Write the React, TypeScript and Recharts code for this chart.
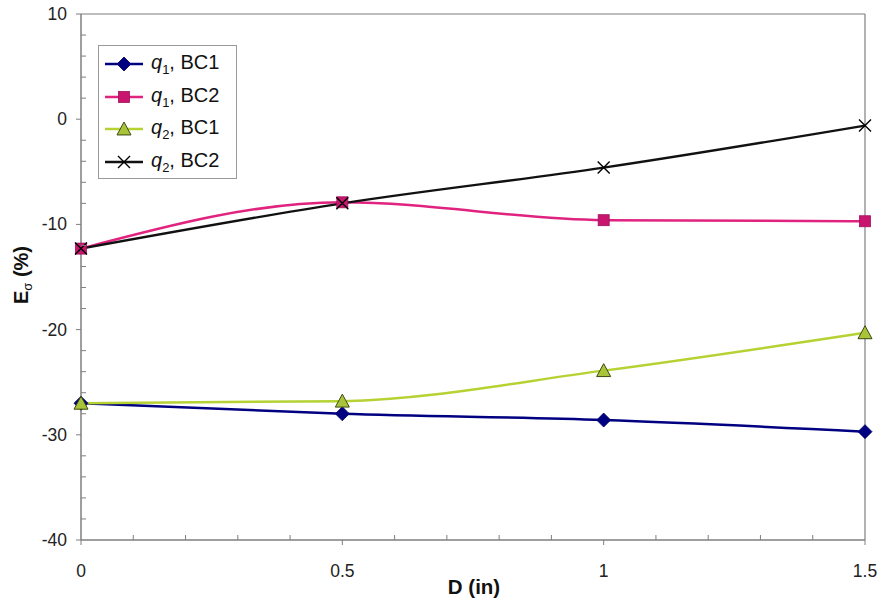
import React from "react";
import { LineChart, Line, XAxis, YAxis, Legend, ReferenceLine } from "recharts";

// Diameter D (in) on the x axis
const dValues = [0, 0.5, 1, 1.5];
// Eσ (%) for each loading / boundary-condition case
const q1BC1 = [-27.0, -28.0, -28.6, -29.7];
const q1BC2 = [-12.3, -7.9, -9.6, -9.7];
const q2BC1 = [-27.0, -26.8, -23.9, -20.3];
const q2BC2 = [-12.3, -8.0, -4.6, -0.6];

// Tick positions (major ones carry labels)
const xTicks = [0, 0.1, 0.2, 0.3, 0.4, 0.5, 0.6, 0.7, 0.8, 0.9, 1, 1.1, 1.2, 1.3, 1.4, 1.5];
const xMajor = [0, 0.5, 1, 1.5];
const yTicks = [-40, -38, -36, -34, -32, -30, -28, -26, -24, -22, -20, -18, -16, -14, -12, -10, -8, -6, -4, -2, 0, 2, 4, 6, 8, 10];
const yMajor = [-40, -30, -20, -10, 0, 10];

const data = dValues.map((d, i) => ({
  d,
  q1BC1: q1BC1[i],
  q1BC2: q1BC2[i],
  q2BC1: q2BC1[i],
  q2BC2: q2BC2[i],
}));

const FONT = "'Liberation Sans', Arial, sans-serif";
const AXIS_GRAY = "#7f7f7f";

const isMajor = (v: number, list: number[]) => list.some((m) => Math.abs(m - v) < 1e-9);

const Diamond = ({ cx, cy, s = 7 }: any) => (
  <path d={`M${cx},${cy - s} L${cx + s},${cy} L${cx},${cy + s} L${cx - s},${cy} Z`} fill="#000080" stroke="#000060" strokeWidth={0.8} />
);
const Square = ({ cx, cy, s = 5.5 }: any) => (
  <rect x={cx - s} y={cy - s} width={2 * s} height={2 * s} fill="#c8156e" stroke="#a0105a" strokeWidth={0.8} />
);
const Triangle = ({ cx, cy, s = 7 }: any) => (
  <path d={`M${cx},${cy - s} L${cx + s},${cy + s * 0.85} L${cx - s},${cy + s * 0.85} Z`} fill="#a9c43a" stroke="#3c4a10" strokeWidth={1} />
);
const Cross = ({ cx, cy, s = 6 }: any) => (
  <path d={`M${cx - s},${cy - s} L${cx + s},${cy + s} M${cx - s},${cy + s} L${cx + s},${cy - s}`} stroke="#000" strokeWidth={1.4} fill="none" />
);

const series = [
  { key: "q1BC1", q: "1", bc: "BC1", color: "#000080", width: 2.5, Marker: Diamond },
  { key: "q1BC2", q: "1", bc: "BC2", color: "#e0237f", width: 2.5, Marker: Square },
  { key: "q2BC1", q: "2", bc: "BC1", color: "#b5d232", width: 2.5, Marker: Triangle },
  { key: "q2BC2", q: "2", bc: "BC2", color: "#111111", width: 2.3, Marker: Cross },
];

const XTick = ({ x, y, payload }: any) => {
  const v = payload.value;
  const major = isMajor(v, xMajor);
  return (
    <g>
      <line x1={x} x2={x} y1={y} y2={major ? y + 5 : y - 5} stroke={AXIS_GRAY} strokeWidth={1} />
      {major && (
        <text x={x} y={y + 37} textAnchor="middle" fontFamily={FONT} fontSize={17.5} fill="#222">
          {v}
        </text>
      )}
    </g>
  );
};

const YTick = ({ x, y, payload }: any) => {
  const v = payload.value;
  const major = isMajor(v, yMajor);
  return (
    <g>
      <line x1={major ? x - 5 : x} x2={major ? x : x + 5} y1={y} y2={y} stroke={AXIS_GRAY} strokeWidth={1} />
      {major && (
        <text x={x - 14} y={y + 6} textAnchor="end" fontFamily={FONT} fontSize={17.5} fill="#222">
          {v}
        </text>
      )}
    </g>
  );
};

const renderLegend = () => (
  <div
    style={{
      width: 139,
      height: 134,
      border: "1px solid #9a9a9a",
      background: "#fff",
      boxSizing: "border-box",
      paddingTop: 2,
    }}
  >
    {series.map((s) => (
      <div key={s.key} style={{ display: "flex", alignItems: "center", height: 32.5 }}>
        <svg width={48} height={20} style={{ flex: "none", marginLeft: 4 }}>
          <line x1={2} x2={40} y1={10} y2={10} stroke={s.color} strokeWidth={2.5} />
          <s.Marker cx={21} cy={10} />
        </svg>
        <span style={{ fontFamily: FONT, fontSize: 20, color: "#111", whiteSpace: "nowrap" }}>
          <i>q</i>
          <sub style={{ fontSize: 13 }}>{s.q}</sub>, {s.bc}
        </span>
      </div>
    ))}
  </div>
);

const renderYLabel = () => (
  <text
    x={28}
    y={275}
    transform="rotate(-90, 28, 275)"
    textAnchor="middle"
    fontFamily={FONT}
    fontSize={20}
    fontWeight="bold"
    fill="#111"
  >
    E
    <tspan fontSize={13} fontWeight="normal" dy={4}>σ</tspan>
    <tspan dy={-4}> (%)</tspan>
  </text>
);

const renderXLabel = () => (
  <text x={474} y={594} textAnchor="middle" fontFamily={FONT} fontSize={20.5} fontWeight="bold" fill="#111">
    D (in)
  </text>
);

export default function App() {
  return (
    <div style={{ position: "absolute", left: 0, top: 0, background: "#fff" }}>
      <LineChart width={883} height={607} data={data} margin={{ top: 14, right: 18, left: 0, bottom: 27 }}>
        <XAxis
          dataKey="d"
          type="number"
          domain={[0, 1.5]}
          ticks={xTicks}
          interval={0}
          tickSize={0}
          tickMargin={0}
          tick={<XTick />}
          axisLine={{ stroke: AXIS_GRAY, strokeWidth: 1.5 }}
          height={40}
          label={{ content: renderXLabel }}
        />
        <YAxis
          type="number"
          domain={[-40, 10]}
          ticks={yTicks}
          interval={0}
          tickSize={0}
          tickMargin={0}
          tick={<YTick />}
          axisLine={{ stroke: AXIS_GRAY, strokeWidth: 1.5 }}
          width={81}
          label={{ content: renderYLabel }}
        />
        <ReferenceLine y={10} stroke={AXIS_GRAY} strokeWidth={1.2} />
        <ReferenceLine x={1.5} stroke={AXIS_GRAY} strokeWidth={1.2} />
        {series.map((s) => (
          <Line
            key={s.key}
            dataKey={s.key}
            type="monotone"
            stroke={s.color}
            strokeWidth={s.width}
            isAnimationActive={false}
            dot={(p: any) => <s.Marker key={`${s.key}-${p.index}`} cx={p.cx} cy={p.cy} />}
            activeDot={false}
          />
        ))}
        <Legend
          layout="vertical"
          align="center"
          verticalAlign="middle"
          content={renderLegend}
          wrapperStyle={{ left: 98, top: 45, width: 139, height: 134 }}
        />
      </LineChart>
    </div>
  );
}
